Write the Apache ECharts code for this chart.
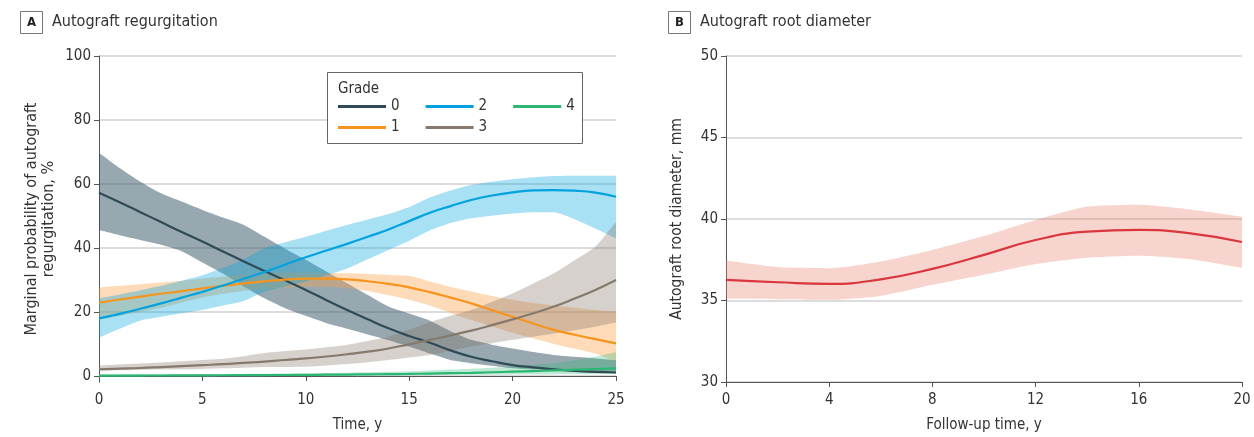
<!DOCTYPE html>
<html><head><meta charset="utf-8">
<script src="https://cdn.jsdelivr.net/npm/echarts@6/dist/echarts.min.js"></script>
<style>html,body{margin:0;padding:0;background:#fff}#c{width:1254px;height:437px}</style>
</head><body><div id="c"></div>
<script>
// ---------- Panel A: Autograft regurgitation ----------
const yearsA = ['0','1','2','3','4','5','6','7','8','9','10','11','12','13','14','15','16','17','18','19','20','21','22','23','24','25'];
const grade0 = [57.3,54.3,51.2,48.1,45.0,42.0,38.9,35.8,32.8,29.9,26.9,23.7,20.6,17.7,14.9,12.5,10.4,8.0,6.0,4.6,3.4,2.7,2.1,1.6,1.3,1.1];
const grade0Up = [69.8,65.0,60.7,57.1,54.5,51.9,49.5,47.2,43.5,39.8,36.3,32.6,29.0,25.3,21.7,19.5,17.3,14.0,11.3,9.8,8.6,7.5,6.6,6.0,5.5,5.0];
const grade0Lo = [45.6,44.0,42.5,41.0,39.0,35.5,32.0,28.0,24.3,21.2,18.8,16.5,14.8,13.0,11.2,9.2,7.0,5.0,4.0,3.2,2.4,2.0,1.7,1.3,1.0,0.8];
const grade1 = [22.9,23.9,24.8,25.7,26.5,27.4,28.2,28.9,29.6,30.1,30.4,30.4,30.2,29.6,28.8,27.7,26.2,24.5,22.7,20.6,18.5,16.4,14.4,12.9,11.5,10.2];
const grade1Up = [27.7,28.2,28.7,29.2,29.8,30.5,31.1,31.6,32.2,32.3,32.3,32.2,32.1,31.9,31.6,31.3,29.5,27.8,26.4,25.0,23.8,22.8,22.0,21.3,20.6,20.1];
const grade1Lo = [17.5,18.8,20.0,21.3,23.0,24.5,25.7,26.6,27.2,27.6,27.9,27.8,27.4,26.5,25.3,23.8,22.0,19.7,17.5,15.5,13.5,11.7,10.0,8.5,7.0,4.5];
const grade2 = [18.0,19.4,21.0,22.7,24.5,26.3,28.3,30.4,32.5,34.8,37.1,39.2,41.3,43.5,45.8,48.4,51.0,53.1,55.0,56.4,57.4,58.0,58.1,57.9,57.3,56.0];
const grade2Up = [24.3,25.5,26.8,28.2,29.8,31.5,33.8,36.5,39.9,41.8,43.5,45.4,47.2,48.9,50.6,52.8,55.8,58.0,59.7,60.7,61.5,62.1,62.5,62.6,62.6,62.6];
const grade2Lo = [12.0,14.8,17.3,18.5,19.6,20.6,22.0,23.4,26.4,27.9,29.5,31.5,33.6,36.5,39.4,42.3,45.5,47.8,49.3,50.1,50.8,51.2,51.2,49.0,46.1,43.0];
const grade3 = [2.1,2.3,2.5,2.8,3.1,3.4,3.7,4.1,4.5,5.0,5.5,6.1,6.8,7.6,8.6,9.9,11.3,12.7,14.2,15.9,17.7,19.6,21.7,24.2,26.9,30.0];
const grade3Up = [3.3,3.6,3.9,4.2,4.6,5.0,5.4,6.2,7.2,7.8,8.3,9.0,9.7,11.0,12.3,14.5,16.8,18.8,20.6,23.2,25.8,28.9,32.1,36.2,40.4,48.2];
const grade3Lo = [1.7,1.8,1.9,2.0,2.1,2.2,2.4,2.6,2.8,2.85,2.9,3.3,3.75,4.3,5.0,5.8,6.6,7.9,9.2,10.2,11.3,12.3,13.3,14.3,15.4,16.7];
const grade4 = [0.1,0.12,0.14,0.16,0.18,0.2,0.23,0.26,0.29,0.32,0.35,0.4,0.45,0.51,0.58,0.65,0.76,0.88,1.0,1.17,1.35,1.55,1.75,1.97,2.18,2.4];
const grade4Up = [0.5,0.5,0.52,0.55,0.58,0.6,0.63,0.66,0.7,0.75,0.8,0.9,1.0,1.15,1.3,1.5,1.75,2.0,2.3,2.6,3.0,3.5,4.0,4.9,6.0,7.5];
const grade4Lo = [0,0,0,0,0,0,0,0,0,0,0.05,0.07,0.09,0.12,0.15,0.2,0.24,0.28,0.32,0.36,0.4,0.44,0.48,0.52,0.56,0.6];
const gradeNames = ['0','1','2','3','4'];
const yTicksA = [0,20,40,60,80,100];

// ---------- Panel B: Autograft root diameter ----------
const yearsB = ['0','2','4','6','8','10','12','14','16','18','20'];
const diameter = [36.27,36.12,36.02,36.30,36.94,37.80,38.71,39.22,39.33,39.12,38.59];
const diameterUp = [37.45,37.05,36.98,37.40,38.10,38.95,39.94,40.76,40.88,40.59,40.14];
const diameterLo = [35.10,35.08,35.04,35.28,35.96,36.58,37.24,37.63,37.75,37.53,37.00];

const FONT = "'Liberation Sans Narrow','DejaVu Sans Condensed','Roboto Condensed','Liberation Sans',sans-serif";
const TXT = '#333';
const lineColors = ['#2f4b57','#f7941d','#00a3e0','#857a6d','#2bb673'];
const bandColors = ['rgba(47,82,98,0.5)','rgba(250,160,70,0.38)','rgba(0,163,224,0.34)','rgba(130,115,100,0.33)','rgba(43,182,115,0.3)'];

const centers = [grade0,grade1,grade2,grade3,grade4];
const uppers = [grade0Up,grade1Up,grade2Up,grade3Up,grade4Up];
const lowers = [grade0Lo,grade1Lo,grade2Lo,grade3Lo,grade4Lo];

function band(id, lo, up, color, axis) {
  return [
    {type:'line', name:'band'+id+'lo', xAxisIndex:axis, yAxisIndex:axis, data:lo, stack:'b'+id,
     symbol:'none', lineStyle:{width:0,opacity:0}, silent:true, z:1, smooth:0.2},
    {type:'line', name:'band'+id+'hi', xAxisIndex:axis, yAxisIndex:axis, data:up.map((u,i)=>+(u-lo[i]).toFixed(3)), stack:'b'+id,
     symbol:'none', lineStyle:{width:0,opacity:0}, areaStyle:{color:color, opacity:1}, silent:true, z:1, smooth:0.2}
  ];
}

const series = [];
for (let g=0; g<5; g++) series.push(...band('A'+g, lowers[g], uppers[g], bandColors[g], 0));
for (let g=0; g<5; g++) series.push({type:'line', name:gradeNames[g], xAxisIndex:0, yAxisIndex:0, data:centers[g],
  symbol:'none', smooth:true, lineStyle:{color:lineColors[g], width:2.2}, itemStyle:{color:lineColors[g]}, z:3});
series.push(...band('B', diameterLo, diameterUp, 'rgba(232,128,105,0.33)', 1));
series.push({type:'line', name:'diam', xAxisIndex:1, yAxisIndex:1, data:diameter, symbol:'none', smooth:true,
  lineStyle:{color:'#d9363e', width:2.2}, z:3});

const axisLine = {show:true, lineStyle:{color:'#555', width:1}};
const axisTick = {show:true, length:5, lineStyle:{color:'#555'}};
const splitLine = {show:true, lineStyle:{color:'#dcdcdc', width:2}};
const lbl = {color:TXT, fontSize:15, fontFamily:FONT};
const nameStyle = {fontSize:15, color:TXT, fontFamily:FONT, lineHeight:17};

const legendCommon = {orient:'horizontal', icon:'rect', itemWidth:48, itemHeight:3, itemGap:26, z:5,
  textStyle:{fontSize:15, color:TXT, fontFamily:FONT}, selectedMode:false, padding:0};

const option = {
  animation:false,
  textStyle:{fontFamily:FONT},
  title:[
    {text:'A', left:20, top:11, padding:[4,7,4,7], borderColor:'#777', borderWidth:1,
     textStyle:{fontSize:13, fontWeight:'bold', color:'#222', fontFamily:FONT, lineHeight:15}},
    {text:'Autograft regurgitation', left:52, top:12, padding:0,
     textStyle:{fontSize:16, fontWeight:'normal', color:TXT, fontFamily:FONT, lineHeight:19}},
    {text:'B', left:668, top:11, padding:[4,7,4,7], borderColor:'#777', borderWidth:1,
     textStyle:{fontSize:13, fontWeight:'bold', color:'#222', fontFamily:FONT, lineHeight:15}},
    {text:'Autograft root diameter', left:700, top:12, padding:0,
     textStyle:{fontSize:16, fontWeight:'normal', color:TXT, fontFamily:FONT, lineHeight:19}},
    {text:'Grade', left:327, top:72, padding:[9,11,47,11], borderColor:'#666', borderWidth:1, backgroundColor:'#fff', z:2,
     textStyle:{fontSize:15, fontWeight:'normal', color:TXT, fontFamily:FONT, lineHeight:16, width:234}}
  ],
  legend:[
    Object.assign({data:['0','2','4'], left:338, top:99}, legendCommon),
    Object.assign({data:['1','3'], left:338, top:120}, legendCommon)
  ],
  grid:[
    {left:99, right:638, top:56, bottom:55, containLabel:false, outerBoundsMode:'none'},
    {left:726, right:12, top:56, bottom:55, containLabel:false, outerBoundsMode:'none'}
  ],
  xAxis:[
    {type:'category', gridIndex:0, data:yearsA, boundaryGap:false, name:'Time, y', nameLocation:'middle', nameGap:35,
     nameTextStyle:nameStyle, axisLine:axisLine, axisTick:Object.assign({interval:4}, axisTick),
     axisLabel:Object.assign({interval:4, margin:11}, lbl), splitLine:{show:false}},
    {type:'category', gridIndex:1, data:yearsB, boundaryGap:false, name:'Follow-up time, y', nameLocation:'middle', nameGap:35,
     nameTextStyle:nameStyle, axisLine:axisLine, axisTick:Object.assign({interval:1}, axisTick),
     axisLabel:Object.assign({interval:1, margin:11}, lbl), splitLine:{show:false}}
  ],
  yAxis:[
    {type:'value', gridIndex:0, min:-1.875, max:100, name:'Marginal probability of autograft\nregurgitation, %',
     nameLocation:'middle', nameGap:42, nameTextStyle:{fontSize:16, color:TXT, fontFamily:FONT, lineHeight:17},
     axisLine:axisLine, axisTick:Object.assign({customValues:yTicksA}, axisTick),
     axisLabel:Object.assign({customValues:yTicksA, margin:8}, lbl), splitLine:splitLine},
    {type:'value', gridIndex:1, min:30, max:50, interval:5, name:'Autograft root diameter, mm',
     nameLocation:'middle', nameGap:41, nameTextStyle:{fontSize:15.5, color:TXT, fontFamily:FONT},
     axisLine:axisLine, axisTick:axisTick, axisLabel:Object.assign({margin:8}, lbl), splitLine:splitLine}
  ],
  series:series
};
const chart = echarts.init(document.getElementById('c'), null, {renderer:'canvas'});
chart.setOption(option);
</script></body></html>
